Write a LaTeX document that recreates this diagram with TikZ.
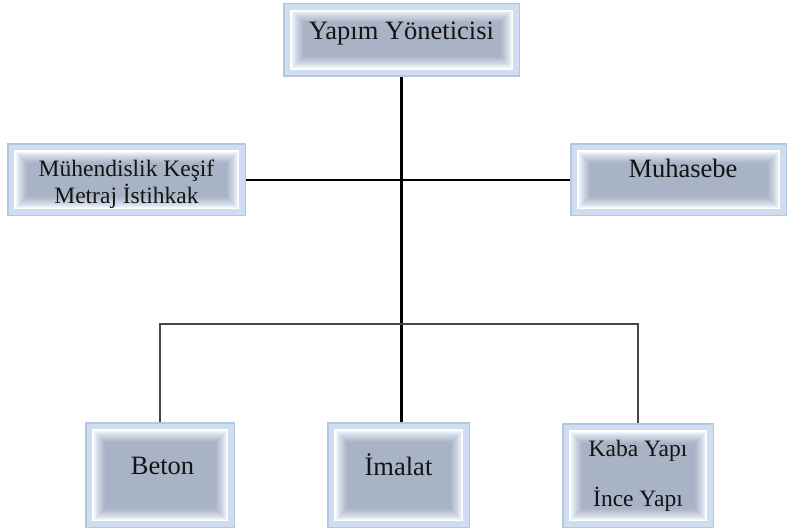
\documentclass[tikz,border=0pt]{standalone}
\usepackage{fontspec}
\setmainfont{Liberation Serif}
\usetikzlibrary{calc}

\definecolor{framedark}{HTML}{B3C7E1}
\definecolor{framelight}{HTML}{CFDDF1}
\definecolor{bevlight}{HTML}{F1F6FD}
\definecolor{face}{HTML}{A8B3C6}
\definecolor{inktext}{HTML}{141414}

% two centred lines whose baselines are exactly #3 apart
\newcommand{\pairlines}[3]{\vtop{\lineskiplimit=-100pt\lineskip=0pt\baselineskip=#3
  \halign{\hfil##\hfil\cr #1\cr #2\cr}}}

\tikzset{
  x=1pt, y=1pt,
  % raised box: pale frame, thin white rim, soft bevel, flat face
  bevelbox/.style={rectangle, inner sep=0pt, text=inktext,
    path picture={
      \fill[framedark] (path picture bounding box.south west) rectangle (path picture bounding box.north east);
      \fill[framelight] ([shift={(1.5pt,1.5pt)}]path picture bounding box.south west)
        rectangle ([shift={(-1.5pt,-1.5pt)}]path picture bounding box.north east);
      \fill[white] ([shift={(7pt,7pt)}]path picture bounding box.south west)
        rectangle ([shift={(-7pt,-7pt)}]path picture bounding box.north east);
      \foreach \k in {0,...,11}{
        \pgfmathsetmacro\ins{8.5+\k}
        \pgfmathtruncatemacro\mix{100*(\k/11)^0.8}
        \fill[face!\mix!bevlight] ([shift={(\ins pt,\ins pt)}]path picture bounding box.south west)
          rectangle ([shift={(-\ins pt,-\ins pt)}]path picture bounding box.north east);
      }
    }},
  oneline/.style={font=\fontsize{26.5}{30}\selectfont},
  twoline/.style={font=\fontsize{23.5}{26.6}\selectfont},
  spine/.style={draw=black, line width=2.3pt},
  branch/.style={draw=black!72, line width=1.3pt}
}

\begin{document}
\begin{tikzpicture}
\useasboundingbox (0,0) rectangle (790,528);

\node[bevelbox, oneline, minimum width=237, minimum height=74,
      text height=14pt, text depth=14pt] (top) at (401.5,488) {Yapım Yöneticisi};

\node[bevelbox, twoline, minimum width=239, minimum height=73,
      text height=12pt, text depth=18.6pt] (muhendis) at (126.5,348)
  {\pairlines{Mühendislik Keşif}{Metraj İstihkak}{26.6pt}};

\node[bevelbox, oneline, minimum width=217, minimum height=73,
      text height=12pt, text depth=16.6pt] (muhasebe) at (678.5,348)
  {\hspace*{9pt}Muhasebe};

\node[bevelbox, oneline, minimum width=150, minimum height=106,
      text height=12pt, text depth=14pt] (beton) at (160,53) {\hspace*{5pt}Beton};

\node[bevelbox, oneline, minimum width=143, minimum height=106,
      text height=13pt, text depth=13pt] (imalat) at (398.5,53) {İmalat};

\node[bevelbox, twoline, minimum width=152, minimum height=105,
      text height=12pt, text depth=49.6pt] (kaba) at (638,52.5)
  {\pairlines{Kaba Yapı}{İnce Yapı}{50pt}};

\coordinate (bus) at (401.5,204);

% main reporting line and staff line
\draw[spine] (top.south) -- (top.south |- imalat.north);
\draw[spine] (muhendis.east) -- (muhasebe.west);

% branch to the outer site units
\draw[branch] (beton.north) -- (beton.north |- bus) -- (kaba.north |- bus) -- (kaba.north);
\end{tikzpicture}
\end{document}
